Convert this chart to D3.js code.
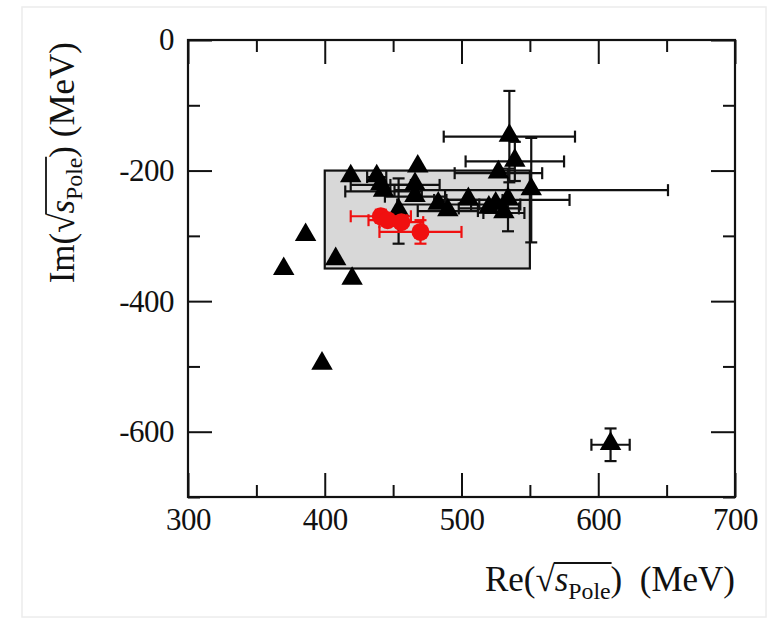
<!DOCTYPE html>
<html>
<head>
<meta charset="utf-8">
<script src="https://cdn.jsdelivr.net/npm/d3@7"></script>
<style>
  body { margin: 0; background: #fff; }
  svg text { font-family: "Liberation Serif", "DejaVu Serif", serif; fill: #111; }
</style>
</head>
<body>
<svg id="svg1" width="774" height="621"></svg>
<script>
const svg = d3.select("svg#svg1");
const width = +svg.attr('width');
const height = +svg.attr('height');
const margin = { top: 40, right: 39, bottom: 124, left: 188 };

// black triangles: [re, im, errRe, errIm]
const triRe  = [370, 386, 398, 408, 420, 419, 609, 438, 441, 443, 468, 466, 466, 483, 505, 520, 527, 531, 534, 535, 539, 551, 454, 490, 525];
const triIm  = [-352, -300, -497, -337, -367, -210, -620, -210, -222, -232, -195, -222, -240, -252, -245, -258, -204, -265, -245, -148, -186, -230, -262, -262, -252];
const triErrRe = [0, 0, 0, 0, 0, 0, 14, 7, 22, 28, 0, 18, 22, 30, 25, 22, 32, 15, 45, 48, 36, 100, 0, 22, 18];
const triErrIm = [0, 0, 0, 0, 0, 0, 25, 0, 0, 0, 0, 0, 0, 0, 0, 0, 0, 0, 48, 70, 30, 80, 50, 0, 0];

// red circles
const redRe  = [441, 446, 456, 470];
const redIm  = [-270, -276, -279, -294];
const redErrRe = [22, 14, 16, 30];
const redErrIm = [10, 8, 0, 18];

// grey band
const bandRe = [400, 550];
const bandIm = [-200, -350];

const xMajor = [300, 400, 500, 600, 700];
const xMinor = [350, 450, 550, 650];
const yMajor = [0, -200, -400, -600];
const yMinor = [-100, -300, -500, -700];

const xScale = d3.scaleLinear().domain([300, 700]).range([margin.left, width - margin.right]);
const yScale = d3.scaleLinear().domain([0, -700]).range([margin.top, height - margin.bottom]);
const x0 = xScale(300), x1 = xScale(700), y0 = yScale(0), y1 = yScale(-700);

// faint page edge
svg.append("rect").attr("x", 22).attr("y", 7).attr("width", 744).attr("height", 610)
  .style("fill", "none").style("stroke", "#ececec").style("stroke-width", 1.5);

// band
svg.append("rect")
  .attr("x", xScale(bandRe[0])).attr("y", yScale(bandIm[0]))
  .attr("width", xScale(bandRe[1]) - xScale(bandRe[0]))
  .attr("height", yScale(bandIm[1]) - yScale(bandIm[0]))
  .style("fill", "#d8d8d8").style("stroke", "#111").style("stroke-width", 2.2);

// axes
function styleAxis(g) {
  g.attr("font-family", "Liberation Serif").attr("font-size", 31);
  g.select(".domain").remove();
  g.selectAll(".tick line").style("stroke", "#111").style("stroke-width", 2);
  g.selectAll(".tick text").style("font-size", "31px").style("letter-spacing", "-0.5px").style("fill", "#111");
}
const axes = svg.append("g").attr("id", "axes");
axes.append("g").attr("transform", `translate(0,${y1})`)
  .call(d3.axisBottom(xScale).tickValues(xMajor).tickSize(-24).tickPadding(11)).call(styleAxis);
axes.append("g").attr("transform", `translate(0,${y1})`)
  .call(d3.axisBottom(xScale).tickValues(xMinor).tickSize(-12).tickFormat("")).call(styleAxis);
axes.append("g").attr("transform", `translate(0,${y0})`)
  .call(d3.axisTop(xScale).tickValues(xMajor).tickSize(-24).tickFormat("")).call(styleAxis);
axes.append("g").attr("transform", `translate(0,${y0})`)
  .call(d3.axisTop(xScale).tickValues(xMinor).tickSize(-12).tickFormat("")).call(styleAxis);
axes.append("g").attr("transform", `translate(${x0},0)`)
  .call(d3.axisLeft(yScale).tickValues(yMajor).tickSize(-24).tickPadding(14).tickFormat(d3.format("d"))).call(styleAxis);
axes.append("g").attr("transform", `translate(${x0},0)`)
  .call(d3.axisLeft(yScale).tickValues(yMinor).tickSize(-12).tickFormat("")).call(styleAxis);
axes.append("g").attr("transform", `translate(${x1},0)`)
  .call(d3.axisRight(yScale).tickValues(yMajor).tickSize(-24).tickFormat("")).call(styleAxis);
axes.append("g").attr("transform", `translate(${x1},0)`)
  .call(d3.axisRight(yScale).tickValues(yMinor).tickSize(-12).tickFormat("")).call(styleAxis);
axes.selectAll(".tick text").text(function() { return d3.select(this).text().replace("−", "-"); });

svg.append("rect").attr("x", x0).attr("y", y0).attr("width", x1 - x0).attr("height", y1 - y0)
  .style("fill", "none").style("stroke", "#111").style("stroke-width", 2.2);

// error bars
function errorBars(g, xs, ys, ex, ey, color) {
  const cap = 6;
  xs.forEach((v, i) => {
    const cx = xScale(v), cy = yScale(ys[i]);
    if (ex[i] > 0) {
      const a = xScale(v - ex[i]), b = xScale(v + ex[i]);
      g.append("line").attr("x1", a).attr("x2", b).attr("y1", cy).attr("y2", cy);
      g.append("line").attr("x1", a).attr("x2", a).attr("y1", cy - cap).attr("y2", cy + cap);
      g.append("line").attr("x1", b).attr("x2", b).attr("y1", cy - cap).attr("y2", cy + cap);
    }
    if (ey[i] > 0) {
      const a = yScale(ys[i] - ey[i]), b = yScale(ys[i] + ey[i]);
      g.append("line").attr("x1", cx).attr("x2", cx).attr("y1", a).attr("y2", b);
      g.append("line").attr("x1", cx - cap).attr("x2", cx + cap).attr("y1", a).attr("y2", a);
      g.append("line").attr("x1", cx - cap).attr("x2", cx + cap).attr("y1", b).attr("y2", b);
    }
  });
  g.selectAll("line").style("stroke", color).style("stroke-width", 2.2);
}

const blackG = svg.append("g").attr("id", "black");
errorBars(blackG.append("g"), triRe, triIm, triErrRe, triErrIm, "#111");
const tri = d3.symbol().type(d3.symbolTriangle).size(200);
blackG.selectAll("path.tri").data(triRe).join("path").attr("class", "tri")
  .attr("d", tri)
  .attr("transform", (d, i) => `translate(${xScale(d)},${yScale(triIm[i]) - 1})`)
  .style("fill", "#000");

const redG = svg.append("g").attr("id", "red");
errorBars(redG.append("g"), redRe, redIm, redErrRe, redErrIm, "#f01010");
redG.selectAll("circle").data(redRe).join("circle")
  .attr("cx", d => xScale(d)).attr("cy", (d, i) => yScale(redIm[i]))
  .attr("r", 9).style("fill", "#f01010");

// axis titles with sqrt overline
function sqrtTitle(g, prefix, fs, gap) {
  const t = g.append("text").style("font-size", fs + "px");
  t.append("tspan").text(prefix + "(");
  t.append("tspan").text("√");
  t.append("tspan").style("font-style", "italic").text("s");
  t.append("tspan").attr("dy", fs * 0.22).style("font-size", (fs * 0.68) + "px").text("Pole");
  t.append("tspan").attr("dy", -fs * 0.22).text(")" + gap + "(MeV)");
  t.attr("xml:space", "preserve").style("white-space", "pre");
  const n = prefix.length + 1;
  const start = t.node().getEndPositionOfChar(n).x;
  const end = t.node().getEndPositionOfChar(n + 5).x;
  g.append("line").attr("x1", start - 1).attr("x2", end + 1)
    .attr("y1", -fs * 0.8).attr("y2", -fs * 0.8)
    .style("stroke", "#111").style("stroke-width", 1.8);
  return t;
}
const xt = svg.append("g");
const xtText = sqrtTitle(xt, "Re", 35, "  ");
const xw = xtText.node().getComputedTextLength();
xt.attr("transform", `translate(${735 - xw},591)`);

const yt = svg.append("g");
const ytText = sqrtTitle(yt, "Im", 35, " ");
const yw = ytText.node().getComputedTextLength();
yt.attr("transform", `translate(74,${42 + yw}) rotate(-90)`);
</script>
</body>
</html>
